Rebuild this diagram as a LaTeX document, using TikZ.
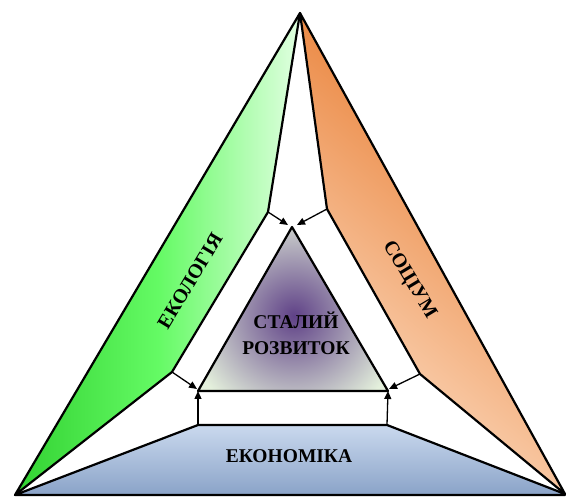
\documentclass[tikz,border=0pt]{standalone}
\usepackage{fontspec}
\setmainfont{Liberation Serif}
\usetikzlibrary{arrows.meta}
\definecolor{gdark}{RGB}{50,210,50}
\definecolor{gmid}{RGB}{100,250,100}
\definecolor{glight}{RGB}{225,255,225}
\definecolor{odark}{RGB}{230,112,30}
\definecolor{olight}{RGB}{253,224,200}
\definecolor{btop}{RGB}{202,217,238}
\definecolor{bbot}{RGB}{138,163,200}
\definecolor{tpurple}{RGB}{95,65,135}
\definecolor{tpale}{RGB}{228,240,220}
\begin{document}
\begin{tikzpicture}[x=1pt,y=-1pt,
  band/.style={draw=black,line width=2.2pt,line join=round},
  conn/.style={line width=1.3pt,-{Triangle[length=8pt,width=7pt]}},
  lab/.style={font=\bfseries\fontsize{20}{24}\selectfont,text=black}]
\useasboundingbox (0,0) rectangle (566,497);
% key points
\coordinate (apex) at (300,13);
\coordinate (bl) at (15,495);
\coordinate (br) at (565,494);
\coordinate (g1) at (268,212);
\coordinate (g2) at (172,372);
\coordinate (o1) at (327,209);
\coordinate (o2) at (420,374);
\coordinate (b1) at (198,425);
\coordinate (b2) at (387,425);
\coordinate (t1) at (292,227);
\coordinate (t2) at (198,391);
\coordinate (t3) at (388,391);
\coordinate (t1l) at (288,225);
\coordinate (t1r) at (297,225);
\coordinate (t2a) at (197,389);
\coordinate (t3a) at (389,389);
% green band
\shade[left color=gdark, right color=glight, middle color=gmid]
  (apex) -- (g1) -- (g2) -- (bl) -- cycle;
\draw[band] (apex) -- (g1) -- (g2) -- (bl) -- cycle;
% orange band
\shade[top color=odark, bottom color=olight, shading angle=-40]
  (apex) -- (o1) -- (o2) -- (br) -- cycle;
\draw[band] (apex) -- (o1) -- (o2) -- (br) -- cycle;
% blue band
\shade[top color=btop, bottom color=bbot]
  (bl) -- (b1) -- (b2) -- (br) -- (565,495) -- cycle;
\draw[band] (bl) -- (b1) -- (b2) -- (br) -- (565,495) -- cycle;
% centre triangle
\begin{scope}
  \clip (t1) -- (t2) -- (t3) -- cycle;
  \fill[tpale] (t1) -- (t2) -- (t3) -- cycle;
  \shade[inner color=tpurple, outer color=tpale] (294,316) circle (110);
\end{scope}
\draw[band] (t1) -- (t2) -- (t3) -- cycle;
% connectors
\draw[conn] (g1) -- (t1l);
\draw[conn] (o1) -- (t1r);
\draw[conn] (g2) -- (t2a);
\draw[conn] (o2) -- (t3a);
\draw[conn] (b1) -- (t2);
\draw[conn] (b2) -- (t3);
% labels
\node[lab, rotate=59] (eco) at (190,281) {ЕКОЛОГІЯ};
\node[lab, rotate=-59] (soc) at (409,280) {СОЦІУМ};
\node[lab, font=\bfseries\fontsize{19.5}{24}\selectfont] (econ) at (289,456) {ЕКОНОМІКА};
\node[lab, align=center, font=\bfseries\fontsize{19.5}{26}\selectfont] (sd) at (296,333) {СТАЛИЙ\\РОЗВИТОК};
\end{tikzpicture}
\end{document}
